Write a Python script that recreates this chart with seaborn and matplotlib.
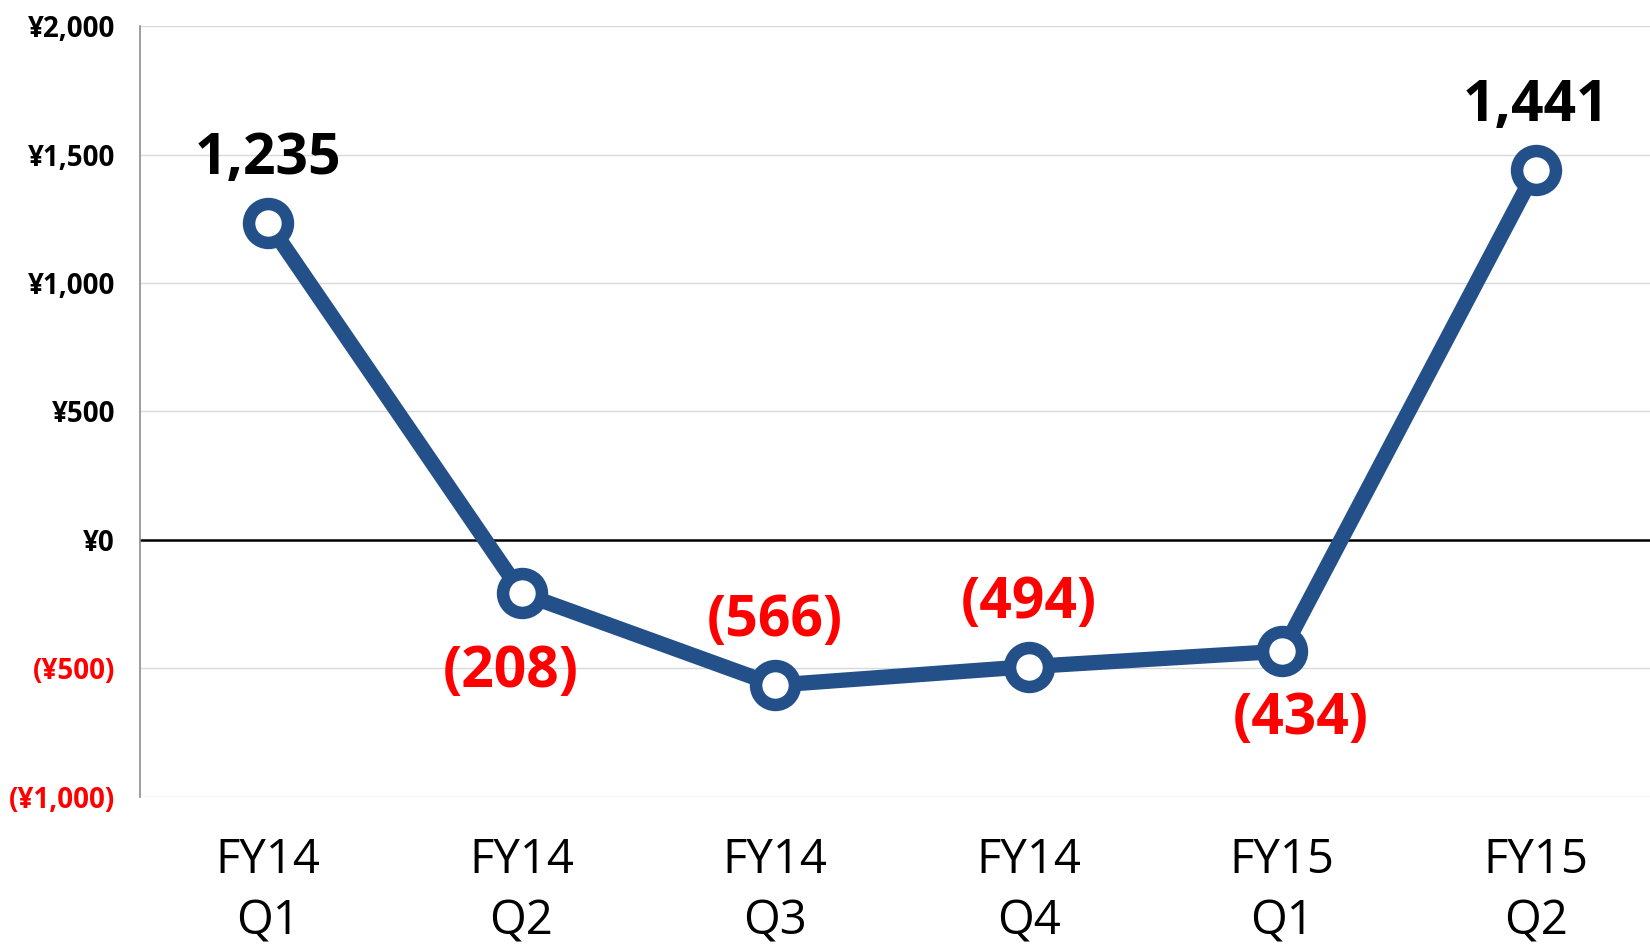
"""
Quarterly net income (FY14 Q1 - FY15 Q2), line chart with value callouts.
"""
import matplotlib
matplotlib.use('Agg')
import matplotlib.pyplot as plt
import pandas as pd
import seaborn as sns

# data
quarters = ['FY14\nQ1', 'FY14\nQ2', 'FY14\nQ3', 'FY14\nQ4', 'FY15\nQ1', 'FY15\nQ2']
income = [1235, -208, -566, -494, -434, 1441]
y_ticks = [-1000, -500, 0, 500, 1000, 1500, 2000]

# label offsets in points (dx, dy) relative to each point
label_offsets = [(0, 46), (-8, -57), (0, 46), (0, 46), (13, -49), (0, 46)]

LINE_COLOR = '#24508A'
RED = '#FF0000'


def fmt_yen(v):
    if v < 0:
        return f'(¥{abs(v):,})'
    return f'¥{v:,}'


def fmt_value(v):
    if v < 0:
        return f'({abs(v):,})'
    return f'{v:,}'


sns.set_theme(style='white')
plt.rcParams['font.family'] = ['Open Sans', 'DejaVu Sans']

df = pd.DataFrame({'quarter': quarters, 'income': income})

fig = plt.figure(figsize=(16.5, 9.51), dpi=100)
ax = fig.add_axes([0.0848, 0.1624, 0.9152, 0.81])

# grid lines and zero line
for t in y_ticks:
    if t == 0:
        ax.axhline(t, color='black', lw=1.8, zorder=1)
    else:
        ax.axhline(t, color='#D9D9D9', lw=1.0, zorder=0)

sns.lineplot(data=df, x='quarter', y='income', ax=ax, color=LINE_COLOR,
             linewidth=11, marker='o', markersize=28, markeredgewidth=9,
             markerfacecolor='white', markeredgecolor=LINE_COLOR,
             sort=False, zorder=3)

for i, (v, (dx, dy)) in enumerate(zip(income, label_offsets)):
    ax.annotate(fmt_value(v), xy=(i, v), xytext=(dx, dy),
                textcoords='offset points', ha='center', va='center',
                fontsize=41, fontweight='bold',
                color=RED if v < 0 else 'black', zorder=4)

ax.set_ylim(-1000, 2000)
ax.set_xlim(-0.505, 5.45)
ax.set_yticks(y_ticks)
ax.set_yticklabels([fmt_yen(t) for t in y_ticks])
for lbl, t in zip(ax.get_yticklabels(), y_ticks):
    lbl.set_color(RED if t < 0 else 'black')
    lbl.set_fontweight('bold')
    lbl.set_fontsize(20)

ax.set_xticks(range(len(quarters)))
ax.set_xticklabels(quarters, fontsize=34, linespacing=1.38, color='black')
ax.tick_params(axis='x', length=0, pad=29)
ax.tick_params(axis='y', length=0, pad=18)
ax.set_xlabel('')
ax.set_ylabel('')

for side in ['top', 'right', 'bottom']:
    ax.spines[side].set_visible(False)
ax.spines['left'].set_color('#8C8C8C')
ax.spines['left'].set_linewidth(1.2)

fig.savefig('out.png', dpi=100)
plt.close(fig)
